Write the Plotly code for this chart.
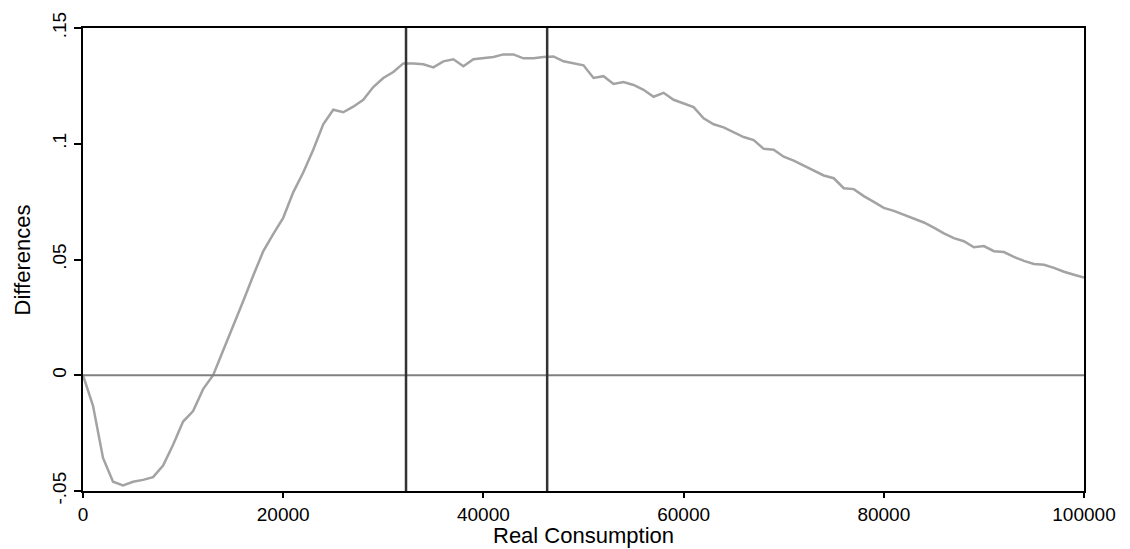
import plotly.graph_objects as go

# Real consumption grid and estimated differences
consumption = list(range(0, 100001, 1000))
differences = [
    0.0, -0.0132, -0.0357, -0.046, -0.0476, -0.046, -0.0452, -0.044, -0.039, -0.030,
    -0.020, -0.0155, -0.006, 0.000, 0.0107, 0.021, 0.032, 0.043, 0.0535, 0.061,
    0.068, 0.079, 0.0876, 0.0974, 0.1084, 0.1147, 0.1136, 0.116, 0.119, 0.1245,
    0.1284, 0.131, 0.1347, 0.1347, 0.1343, 0.133, 0.1356, 0.1365, 0.1335, 0.1365,
    0.137, 0.1375, 0.1386, 0.1386, 0.1369, 0.1369, 0.1375, 0.1377, 0.1356, 0.1347,
    0.1339, 0.1284, 0.1292, 0.1258, 0.1267, 0.1254, 0.1233, 0.1203, 0.122, 0.119,
    0.1173, 0.1158, 0.111, 0.1084, 0.1071, 0.105, 0.1029, 0.1016, 0.0978, 0.0974,
    0.0944, 0.0927, 0.0906, 0.0885, 0.0863, 0.0851, 0.0808, 0.0804, 0.0774, 0.0749,
    0.0723, 0.0710, 0.0694, 0.0677, 0.066, 0.0638, 0.0613, 0.0592, 0.0579, 0.0553,
    0.0558, 0.0536, 0.0532, 0.0511, 0.0494, 0.0481, 0.0477, 0.0464, 0.0447, 0.0434,
    0.0422,
]

# Reference consumption levels marked with vertical lines
markers = [32270, 46370]

x_ticks = [0, 20000, 40000, 60000, 80000, 100000]
x_tick_text = ["0", "20000", "40000", "60000", "80000", "100000"]
y_ticks = [-0.05, 0, 0.05, 0.1, 0.15]
y_tick_text = ["-.05", "0", ".05", ".1", ".15"]

x_title = "Real Consumption"
y_title = "Differences"

fig = go.Figure()
fig.add_trace(go.Scatter(
    x=consumption, y=differences, mode="lines",
    line=dict(color="#a3a3a3", width=2.5),
    showlegend=False, hoverinfo="skip",
))

shapes = [dict(type="line", xref="paper", yref="y", x0=0, x1=1, y0=0, y1=0,
               line=dict(color="#808080", width=2), layer="above")]
for m in markers:
    shapes.append(dict(type="line", xref="x", yref="paper", x0=m, x1=m, y0=0, y1=1,
                       line=dict(color="#333333", width=2.5), layer="above"))

font = "Liberation Sans, Arial, sans-serif"
annotations = [
    dict(text=x_title, xref="paper", yref="paper", x=0.5, y=-0.096,
         xanchor="center", yanchor="middle", showarrow=False,
         font=dict(size=22, family=font, color="black")),
    dict(text=y_title, xref="paper", yref="paper", x=-0.06, y=0.5,
         xanchor="center", yanchor="middle", showarrow=False, textangle=-90,
         font=dict(size=22, family=font, color="black")),
]

fig.update_layout(
    width=1130, height=549,
    margin=dict(l=83, r=46, t=20, b=58),
    paper_bgcolor="white", plot_bgcolor="white",
    font=dict(family=font, color="black"),
    shapes=shapes,
    annotations=annotations,
    xaxis=dict(
        range=[0, 100000], tickvals=x_ticks, ticktext=x_tick_text,
        showgrid=False, zeroline=False,
        showline=True, linecolor="black", linewidth=2, mirror=True,
        ticks="outside", ticklen=5, tickcolor="black", tickwidth=1.5,
        tickfont=dict(size=19, family=font),
    ),
    yaxis=dict(
        range=[-0.05, 0.15], tickvals=y_ticks, ticktext=y_tick_text,
        tickangle=-90,
        showgrid=False, zeroline=False,
        showline=True, linecolor="black", linewidth=2, mirror=True,
        ticks="outside", ticklen=7, tickcolor="black", tickwidth=1.5,
        tickfont=dict(size=19, family=font),
    ),
)

fig.write_html("out.html")
